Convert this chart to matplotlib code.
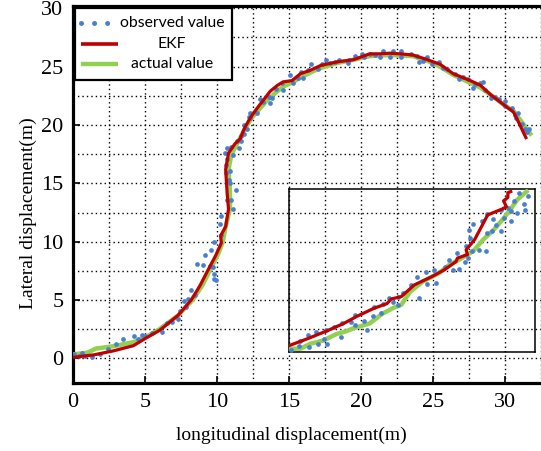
import matplotlib
matplotlib.use('Agg')
import matplotlib.pyplot as plt
from matplotlib.patches import Rectangle
from matplotlib.ticker import MultipleLocator

# main trajectory: EKF estimate (x, y)
ekf_x = [0.0, 1.4, 2.8, 4.2, 5.0, 6.0, 7.3, 8.2, 8.8, 9.3, 9.9, 10.3, 10.25, 10.6, 10.8, 10.7,
         10.6, 10.8, 11.25, 11.6, 11.9, 12.3, 12.7, 13.2, 13.7, 14.2, 14.6, 15.2, 15.8, 16.5,
         17.2, 18.3, 19.5, 20.6, 21.3, 22.0, 22.7, 23.6, 24.6, 25.5, 26.4, 27.6, 28.3, 29.0,
         29.9, 30.6, 31.0, 31.5]
ekf_y = [0.1, 0.3, 0.65, 1.1, 1.7, 2.4, 3.7, 5.0, 6.2, 7.4, 8.8, 9.9, 10.5, 11.3, 12.8, 14.2,
         16.2, 17.6, 18.4, 18.8, 19.7, 20.6, 21.3, 22.1, 22.9, 23.4, 23.7, 23.8, 24.4, 24.7,
         25.1, 25.4, 25.6, 26.1, 26.1, 26.15, 26.1, 26.0, 25.6, 25.2, 24.4, 23.8, 23.4, 22.6,
         21.75, 21.1, 20.1, 18.8]

# main trajectory: actual value
act_x = [0.0, 1.0, 1.6, 2.8, 4.2, 5.0, 6.0, 7.3, 8.3, 9.0, 9.6, 10.1, 10.4, 10.6, 10.9, 10.9,
         10.8, 11.0, 11.4, 11.9, 12.4, 12.9, 13.4, 14.0, 14.6, 15.3, 16.0, 17.0, 18.3, 19.5,
         20.6, 22.0, 23.6, 24.6, 25.5, 26.4, 27.6, 28.3, 29.0, 29.9, 30.6, 31.2, 31.85]
act_y = [0.35, 0.5, 0.85, 1.05, 1.4, 1.8, 2.5, 3.7, 5.0, 6.3, 7.8, 9.0, 10.0, 11.3, 12.8, 14.2,
         16.2, 17.5, 18.4, 19.6, 20.6, 21.3, 22.0, 22.7, 23.3, 23.7, 24.2, 24.8, 25.3, 25.6,
         25.9, 26.0, 25.9, 25.5, 25.0, 24.3, 23.6, 23.2, 22.6, 21.75, 21.2, 20.2, 19.1]

# main trajectory: observed value
obs_x = [0.1, 0.4, 0.6, 0.8, 1.3, 1.9, 2.45, 3.0, 3.5, 4.2, 4.5, 4.8, 5.0, 5.5, 6.2, 6.5, 6.85,
         7.3, 7.4, 7.85, 7.7, 8.0, 8.2, 8.5, 8.6, 9.0, 9.2, 9.6, 9.8, 9.75, 9.8, 9.8, 9.9, 9.5,
         10.25, 10.2, 10.3, 11.1, 11.0, 10.7, 11.3, 10.9, 10.8, 10.6, 10.9, 10.6, 10.7, 10.55,
         11.1, 10.7, 11.0, 11.5, 11.4, 11.7, 11.7, 11.9, 12.1, 11.9, 12.2, 12.3, 12.75, 12.3,
         13.0, 13.2, 13.6, 13.7, 13.8, 14.1, 14.5, 14.6, 15.1, 15.3, 15.6, 15.8, 16.0, 16.3,
         16.5, 17.0, 17.3, 17.6, 17.85, 18.2, 18.5, 19.1, 19.2, 19.6, 20.05, 20.2, 20.6, 21.0,
         21.3, 21.5, 22.0, 22.2, 22.8, 22.8, 23.5, 23.9, 24.0, 24.3, 24.6, 24.9, 25.4, 25.7,
         25.95, 26.5, 26.8, 27.1, 27.45, 27.75, 27.9, 28.3, 28.5, 28.6, 29.0, 29.3, 29.6, 30.0,
         30.0, 30.5, 30.7, 30.9, 30.8, 31.2, 31.4, 31.7, 31.5]
obs_y = [0.4, 0.17, 0.45, 0.17, 0.1, 0.35, 0.78, 1.2, 1.65, 1.9, 1.65, 2.0, 1.9, 2.2, 2.3, 3.0,
         3.1, 3.4, 4.1, 4.4, 4.9, 5.1, 5.9, 5.4, 8.1, 8.0, 8.9, 9.3, 10.0, 7.8, 7.2, 6.8, 6.7,
         7.9, 10.6, 11.5, 12.2, 12.8, 13.6, 13.6, 14.4, 15.0, 15.3, 15.9, 16.1, 16.6, 17.1,
         17.6, 17.4, 18.0, 18.1, 18.0, 18.6, 18.6, 19.1, 19.2, 19.7, 20.0, 20.7, 21.0, 21.0,
         20.6, 22.2, 22.0, 22.4, 21.9, 22.3, 23.1, 23.6, 23.0, 24.25, 23.6, 24.0, 24.5, 24.0,
         24.7, 25.2, 24.8, 25.2, 25.55, 25.3, 25.4, 25.55, 25.35, 25.6, 25.9, 26.05, 25.8,
         26.1, 26.0, 25.8, 26.3, 25.8, 26.3, 26.3, 25.8, 26.1, 25.9, 25.4, 25.5, 25.8, 25.2,
         25.4, 24.9, 24.8, 24.4, 23.9, 24.1, 23.9, 23.2, 23.5, 23.6, 23.7, 23.0, 22.3, 22.4,
         22.2, 22.1, 21.6, 21.5, 20.9, 21.0, 20.6, 20.1, 19.7, 19.7, 19.4]

# zoomed inset (same units as the box it sits in)
ins_ekf_x = [15.0, 16.3, 17.7, 18.8, 19.7, 20.9, 21.8, 22.1, 22.8, 23.7, 24.9, 25.8, 26.6,
             26.7, 27.4, 27.3, 27.9, 28.5, 28.8, 29.8, 30.1, 29.9, 30.2, 30.2, 30.4]
ins_ekf_y = [1.1, 1.7, 2.4, 3.0, 3.6, 4.3, 4.7, 5.1, 5.3, 6.3, 7.0, 7.6, 8.3, 8.6, 8.9, 9.3,
             10.2, 11.6, 12.3, 12.8, 13.0, 13.5, 13.8, 14.2, 14.3]
ins_act_x = [15.1, 15.8, 16.5, 17.4, 18.3, 18.9, 19.5, 20.6, 21.5, 22.2, 22.8, 23.4, 24.3,
             25.4, 26.1, 26.8, 27.8, 28.5, 29.2, 29.9, 30.4, 30.85, 31.5]
ins_act_y = [0.84, 0.84, 1.27, 1.55, 2.1, 2.3, 2.6, 3.0, 3.85, 4.3, 4.6, 5.7, 6.6, 7.3, 8.0,
             8.45, 9.2, 10.2, 11.0, 12.0, 12.8, 13.6, 14.3]
ins_obs_x = [15.16, 15.7, 15.76, 16.3, 16.4, 16.9, 17.0, 17.4, 17.65, 17.55, 18.1, 18.6, 18.7,
             19.3, 19.6, 19.6, 20.2, 20.4, 20.8, 20.9, 21.4, 21.5, 21.95, 22.2, 22.6, 22.6,
             22.9, 23.5, 24.0, 23.9, 24.5, 24.6, 25.1, 25.2, 25.8, 26.1, 26.4, 26.7, 26.8,
             27.2, 27.4, 27.3, 27.6, 27.8, 27.5, 27.7, 28.2, 28.4, 28.7, 28.75, 28.75, 29.2,
             29.1, 29.4, 29.7, 29.7, 29.9, 30.2, 30.4, 30.4, 30.6, 30.85, 30.95, 31.3, 31.4, 31.6]
ins_obs_y = [0.75, 1.06, 1.5, 2.0, 0.97, 2.27, 1.27, 1.7, 1.27, 2.4, 2.7, 1.84, 3.0, 3.1, 3.7,
             2.9, 3.2, 2.4, 3.6, 4.4, 3.9, 4.7, 5.2, 4.85, 4.6, 5.3, 5.6, 6.3, 5.2, 7.0, 7.4,
             6.4, 7.6, 6.5, 7.8, 8.45, 7.6, 9.0, 7.7, 8.3, 8.6, 9.6, 10.3, 11.5, 11.0, 9.2, 9.3,
             11.75, 9.2, 10.75, 12.4, 11.95, 10.9, 11.4, 10.9, 12.75, 12.0, 12.9, 12.6, 11.8,
             13.5, 12.5, 14.2, 13.2, 12.75, 13.9]

legend_labels = ['observed value', 'EKF', 'actual value']

blue = '#4a7fd0'
red = '#c00000'
green = '#92d050'

W, H = 541, 451
fig = plt.figure(figsize=(W / 100, H / 100), dpi=100)
ax = fig.add_axes([0.135, 0.1508, 0.87, 0.836])

ax.plot(obs_x, obs_y, ls='none', marker='o', ms=3.4, mew=0, color=blue, zorder=4)
ax.plot(act_x, act_y, color=green, lw=3.2, solid_capstyle='butt', zorder=3)
ax.plot(ekf_x, ekf_y, color=red, lw=2.3, solid_capstyle='butt', zorder=5)

ax.set_xlim(0, 32.69)
ax.set_ylim(-2.1, 30.2)
ax.xaxis.set_major_locator(MultipleLocator(5))
ax.yaxis.set_major_locator(MultipleLocator(5))
ax.xaxis.set_minor_locator(MultipleLocator(2.5))
ax.yaxis.set_minor_locator(MultipleLocator(2.5))
ax.grid(True, which='both', color='black', ls=(0, (1, 2.2)), lw=1.0)
ax.tick_params(which='major', direction='in', length=5, width=1.2, pad=7,
               labelsize=16, top=False, right=False)
ax.tick_params(which='minor', direction='in', length=0)
for lab in ax.get_xticklabels() + ax.get_yticklabels():
    lab.set_family('Liberation Serif')
for side in ['left', 'bottom', 'top']:
    ax.spines[side].set_linewidth(2.3)
ax.spines['right'].set_visible(False)

ax.set_xlabel('longitudinal displacement(m)', family='Liberation Serif', fontsize=14)
ax.set_ylabel('Lateral displacement(m)', family='Liberation Serif', fontsize=14)
ax.xaxis.set_label_coords(0.463, -0.138)
ax.yaxis.set_label_coords(-0.0956, 0.45)
ax.xaxis.label.set_va('center')
ax.yaxis.label.set_va('center')

# inset box
ins = ax.inset_axes([15.0, 0.52, 17.08, 13.96], transform=ax.transData)
ins.set_facecolor('none')
ins.plot(ins_obs_x, ins_obs_y, ls='none', marker='o', ms=3.4, mew=0, color=blue, zorder=4)
ins.plot(ins_act_x, ins_act_y, color=green, lw=3.2, zorder=3)
ins.plot(ins_ekf_x, ins_ekf_y, color=red, lw=2.3, zorder=5)
ins.set_xlim(15.0, 32.08)
ins.set_ylim(0.52, 14.48)
ins.set_xticks([])
ins.set_yticks([])
for s in ins.spines.values():
    s.set_linewidth(1.1)

# legend drawn by hand (entries are centred in the reference)
def fx(px):
    return px / W

def fy(py):
    return 1 - py / H

fig.patches.append(Rectangle((fx(75), fy(80)), fx(232) - fx(75), fy(8) - fy(80),
                             transform=fig.transFigure, facecolor='white',
                             edgecolor='black', lw=1.6, zorder=10))
styles = [dict(color=blue, lw=3.6, ls=(0, (0.01, 2.6)), dash_capstyle='round'),
          dict(color=red, lw=2.6, solid_capstyle='butt'),
          dict(color=green, lw=3.2, solid_capstyle='butt')]
rows = [23, 44, 64]
for lab, st, py in zip(legend_labels, styles, rows):
    fig.add_artist(plt.Line2D([fx(81), fx(118)], [fy(py), fy(py)],
                              transform=fig.transFigure, zorder=11, **st))
    fig.text(fx(172), fy(py), lab, ha='center', va='center', family='Lato',
             fontsize=11.3, zorder=12)

fig.savefig('out.png', dpi=100)
